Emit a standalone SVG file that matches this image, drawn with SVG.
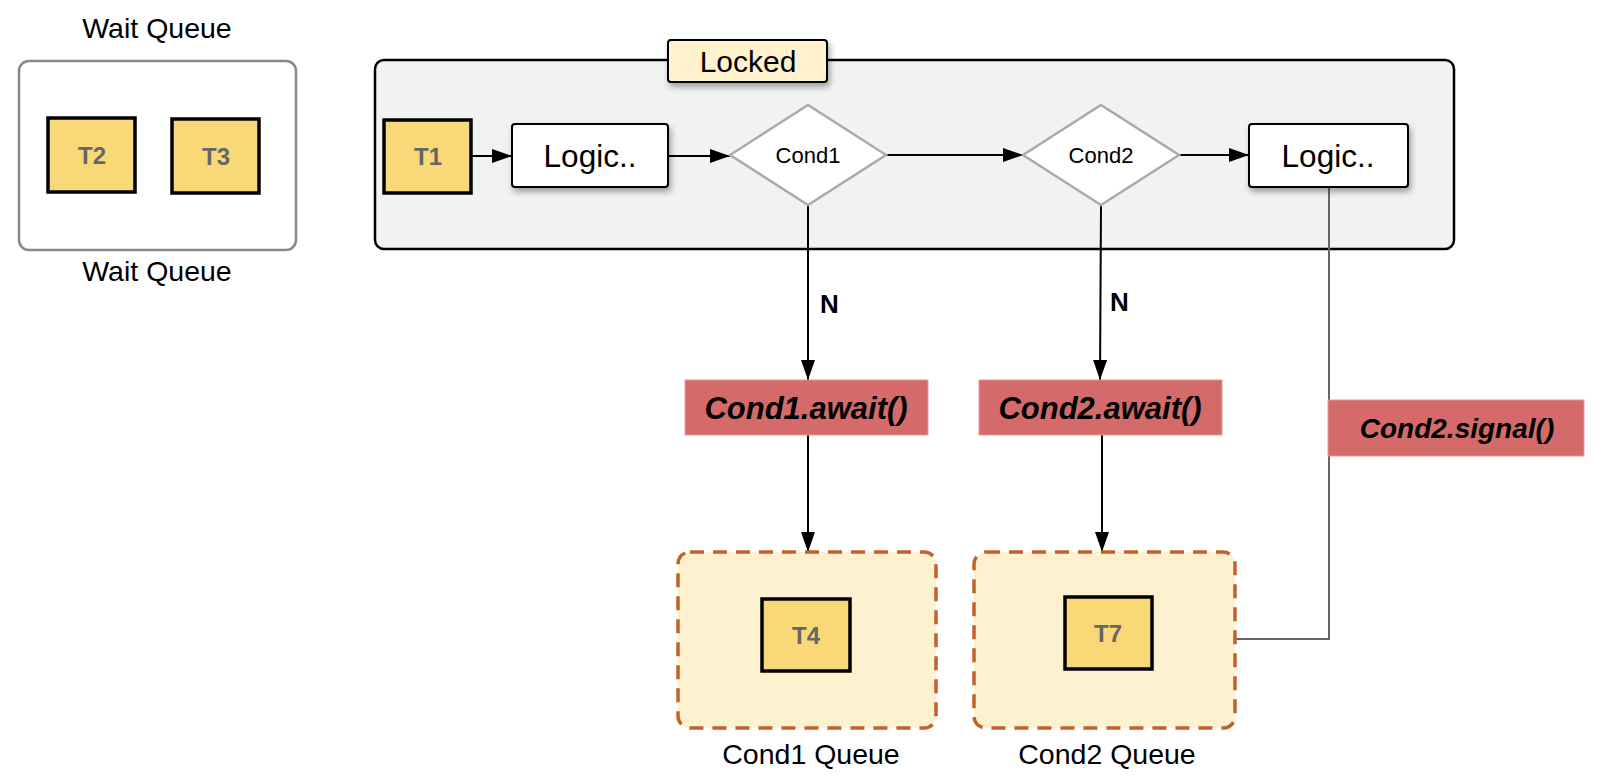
<svg xmlns="http://www.w3.org/2000/svg" width="1604" height="778" viewBox="0 0 1604 778">
<defs>
<marker id="arr" viewBox="0 0 20 14" refX="20" refY="7" markerWidth="20" markerHeight="14" markerUnits="userSpaceOnUse" orient="auto">
<path d="M0,0 L20,7 L0,14 Z" fill="#000"/>
</marker>
<filter id="sh" x="-20%" y="-20%" width="140%" height="160%">
<feDropShadow dx="2" dy="4" stdDeviation="3" flood-color="#000" flood-opacity="0.35"/>
</filter>
</defs>
<style>
text{font-family:"Liberation Sans",Arial,sans-serif;fill:#000}
.lbl{font-size:28.5px;text-anchor:middle}
.tbox{fill:#f9d977;stroke:#000;stroke-width:3.5}
.tt{font-size:24px;font-weight:bold;fill:#666;text-anchor:middle}
.logic{fill:#fff;stroke:#000;stroke-width:2}
.logict{font-size:31.5px;text-anchor:middle}
.dia{fill:#fff;stroke:#aaa;stroke-width:2.5}
.diat{font-size:22px;text-anchor:middle}
.red{fill:#d46b6a;stroke:#e49a98;stroke-width:1}
.redt{font-size:28px;font-weight:bold;font-style:italic;text-anchor:middle}
.redt.big{font-size:31px}
.q{fill:#fdf1cf;stroke:#c1622b;stroke-width:3.5;stroke-dasharray:14 9}
.edge{fill:none;stroke:#000;stroke-width:2}
.nt{font-size:26px;font-weight:bold}
</style>
<rect width="1604" height="778" fill="#fff"/>

<g id="waitqueue">
<text class="lbl" x="157" y="38">Wait Queue</text>
<rect x="19" y="61" width="277" height="189" rx="10" fill="#fff" stroke="#888" stroke-width="2.5"/>
<text class="lbl" x="157" y="281">Wait Queue</text>
</g>
<g id="T2"><rect class="tbox" x="48" y="118" width="87" height="74"/><text class="tt" x="92" y="164">T2</text></g>
<g id="T3"><rect class="tbox" x="172" y="119" width="87" height="74"/><text class="tt" x="216" y="165">T3</text></g>

<g id="locked">
<rect x="375" y="60" width="1079" height="189" rx="9" fill="#f2f2f2" stroke="#000" stroke-width="2.5"/>
<rect x="668" y="40" width="159" height="42" rx="3" fill="#fff2cc" stroke="#000" stroke-width="2" filter="url(#sh)"/>
<text x="748" y="72" font-size="30" text-anchor="middle">Locked</text>
</g>

<g id="connectors">
<line class="edge" x1="471" y1="156" x2="512" y2="156" marker-end="url(#arr)"/>
<line class="edge" x1="668" y1="156" x2="730" y2="156" marker-end="url(#arr)"/>
<line class="edge" x1="887" y1="155" x2="1023" y2="155" marker-end="url(#arr)"/>
<line class="edge" x1="1180" y1="155" x2="1249" y2="155" marker-end="url(#arr)"/>
<line class="edge" x1="808" y1="205" x2="808" y2="380" marker-end="url(#arr)"/>
<line class="edge" x1="1101" y1="205" x2="1100" y2="380" marker-end="url(#arr)"/>
<line class="edge" x1="808" y1="435" x2="808" y2="552" marker-end="url(#arr)"/>
<line class="edge" x1="1102" y1="435" x2="1102" y2="552" marker-end="url(#arr)"/>
<polyline points="1329,187 1329,639 1236,639" fill="none" stroke="#666" stroke-width="2"/>
<text class="nt" x="820" y="313">N</text>
<text class="nt" x="1110" y="311">N</text>
</g>

<g id="T1"><rect class="tbox" x="384" y="120" width="87" height="73"/><text class="tt" x="428" y="165">T1</text></g>
<g id="logic1"><rect class="logic" x="512" y="124" width="156" height="63" rx="3" filter="url(#sh)"/><text class="logict" x="590" y="167">Logic..</text></g>
<g id="cond1"><polygon class="dia" points="730,155 808,105 886,155 808,205"/><text class="diat" x="808" y="163">Cond1</text></g>
<g id="cond2"><polygon class="dia" points="1023,155 1101,105 1179,155 1101,205"/><text class="diat" x="1101" y="163">Cond2</text></g>
<g id="logic2"><rect class="logic" x="1249" y="124" width="159" height="63" rx="3" filter="url(#sh)"/><text class="logict" x="1328" y="167">Logic..</text></g>

<g id="cond1await"><rect class="red" x="685" y="380" width="243" height="55"/><text class="redt big" x="806" y="419">Cond1.await()</text></g>
<g id="cond2await"><rect class="red" x="979" y="380" width="243" height="55"/><text class="redt big" x="1100" y="419">Cond2.await()</text></g>
<g id="cond2signal"><rect class="red" x="1328" y="400" width="256" height="56"/><text class="redt" x="1457" y="438">Cond2.signal()</text></g>

<g id="cond1queue">
<rect class="q" x="678" y="552" width="258" height="176" rx="12"/>
<text class="lbl" x="811" y="764">Cond1 Queue</text>
</g>
<g id="T4"><rect class="tbox" x="762" y="599" width="88" height="72"/><text class="tt" x="806" y="644">T4</text></g>
<g id="cond2queue">
<rect class="q" x="974" y="552" width="261" height="176" rx="12"/>
<text class="lbl" x="1107" y="764">Cond2 Queue</text>
</g>
<g id="T7"><rect class="tbox" x="1065" y="597" width="87" height="72"/><text class="tt" x="1108" y="642">T7</text></g>
</svg>
